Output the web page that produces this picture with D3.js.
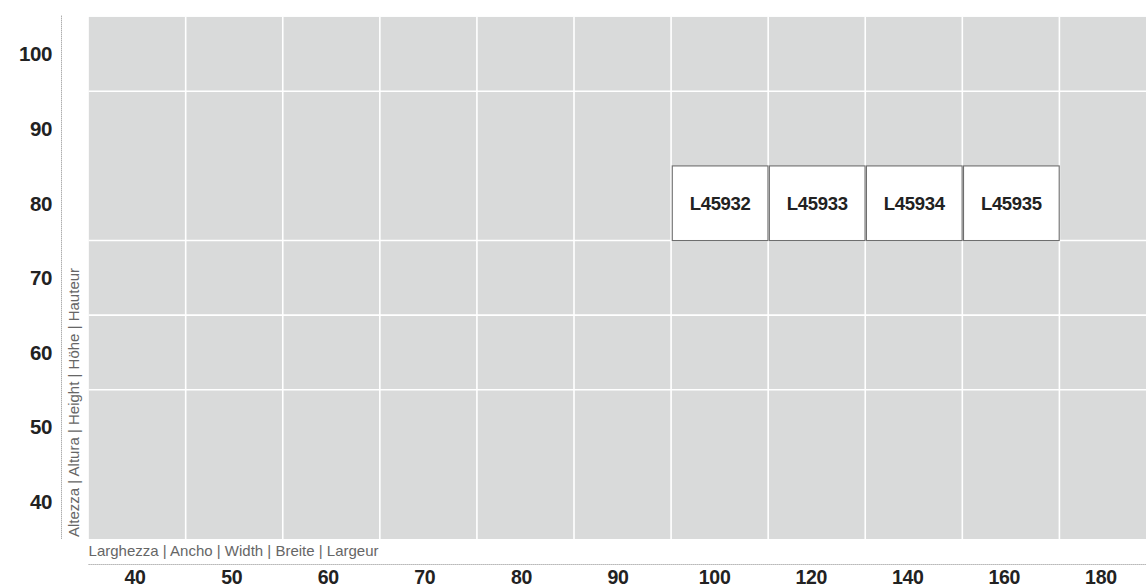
<!DOCTYPE html>
<html>
<head>
<meta charset="utf-8">
<script src="https://cdn.jsdelivr.net/npm/d3@7"></script>
<style>
  html, body { margin: 0; padding: 0; background: #ffffff; }
  svg { display: block; }
</style>
</head>
<body>
<svg id="chart" width="1146" height="587"></svg>
<script>
// ---- data ----
const widthLabels = ["40", "50", "60", "70", "80", "90", "100", "120", "140", "160", "180"];
const heightLabels = ["100", "90", "80", "70", "60", "50", "40"];
const productCodes = ["L45932", "L45933", "L45934", "L45935"];
const productWidths = ["100", "120", "140", "160"];
const productHeights = ["80", "80", "80", "80"];
// rows that have a white line below them
const rowLinesBelow = ["100", "80", "70", "60"];
const xTitle = "Larghezza | Ancho | Width | Breite | Largeur";
const yTitle = "Altezza | Altura | Height | Höhe | Hauteur";

(function () {
const svg = d3.select("#chart");
const W = 1146;
const mLeft = 88.6, mTop = 16.7, mBottom = 539;
const colW = 97.08;

const x = d3.scaleBand().domain(widthLabels).range([mLeft, mLeft + colW * widthLabels.length]).padding(0);
const y = d3.scaleBand().domain(heightLabels).range([mTop, mBottom]).padding(0);

svg.append("defs").append("clipPath").attr("id", "plotclip")
  .append("rect").attr("x", mLeft).attr("y", mTop).attr("width", W - mLeft).attr("height", mBottom - mTop);

const plot = svg.append("g").attr("clip-path", "url(#plotclip)");

plot.append("rect")
  .attr("x", mLeft).attr("y", mTop)
  .attr("width", W - mLeft).attr("height", mBottom - mTop)
  .attr("fill", "#d9dada");

plot.selectAll("line.vgrid")
  .data(widthLabels.slice(1))
  .join("line")
  .attr("class", "vgrid")
  .attr("x1", d => x(d)).attr("x2", d => x(d))
  .attr("y1", mTop).attr("y2", mBottom)
  .attr("stroke", "#ffffff").attr("stroke-width", 1.6);

plot.selectAll("line.hgrid")
  .data(rowLinesBelow)
  .join("line")
  .attr("class", "hgrid")
  .attr("x1", mLeft).attr("x2", W)
  .attr("y1", d => y(d) + y.bandwidth()).attr("y2", d => y(d) + y.bandwidth())
  .attr("stroke", "#ffffff").attr("stroke-width", 1.6);

const products = productCodes.map((c, i) => ({ code: c, w: productWidths[i], h: productHeights[i] }));

const boxes = plot.selectAll("g.box")
  .data(products)
  .join("g")
  .attr("class", "box");

const bx = d => x(d.w) + 1.2;
const bw = x.bandwidth() - 1.4;

boxes.append("rect")
  .attr("x", bx)
  .attr("y", d => y(d.h))
  .attr("width", bw)
  .attr("height", y.bandwidth())
  .attr("fill", "#ffffff")
  .attr("stroke", "#6e6e6e")
  .attr("stroke-width", 1.1);

boxes.append("text")
  .attr("x", d => bx(d) + bw / 2)
  .attr("y", d => y(d.h) + y.bandwidth() / 2)
  .attr("dy", "0.36em")
  .attr("text-anchor", "middle")
  .attr("font-family", "Liberation Sans, Arial, sans-serif")
  .attr("font-weight", "bold")
  .attr("font-size", 18.5)
  .attr("letter-spacing", -0.3)
  .attr("fill", "#222222")
  .text(d => d.code);

svg.append("line")
  .attr("x1", 61.5).attr("x2", 61.5)
  .attr("y1", mTop - 1).attr("y2", mBottom)
  .attr("stroke", "#8a8a8a").attr("stroke-width", 1)
  .attr("stroke-dasharray", "1,1");

svg.append("line")
  .attr("x1", mLeft).attr("x2", W)
  .attr("y1", 564.5).attr("y2", 564.5)
  .attr("stroke", "#8a8a8a").attr("stroke-width", 1)
  .attr("stroke-dasharray", "1,1");

svg.selectAll("text.ylab")
  .data(heightLabels)
  .join("text")
  .attr("class", "ylab")
  .attr("x", 52)
  .attr("y", d => y(d) + y.bandwidth() / 2)
  .attr("dy", "0.36em")
  .attr("text-anchor", "end")
  .attr("font-family", "Liberation Sans, Arial, sans-serif")
  .attr("font-weight", "bold")
  .attr("font-size", 20.5)
  .attr("letter-spacing", -0.4)
  .attr("fill", "#222222")
  .text(d => d);

svg.selectAll("text.xlab")
  .data(widthLabels)
  .join("text")
  .attr("class", "xlab")
  .attr("x", (d, i) => x(d) + x.bandwidth() / 2 - 2 - i * 0.5)
  .attr("y", 583.5)
  .attr("text-anchor", "middle")
  .attr("font-family", "Liberation Sans, Arial, sans-serif")
  .attr("font-weight", "bold")
  .attr("font-size", 19.5)
  .attr("letter-spacing", -0.3)
  .attr("fill", "#222222")
  .text(d => d);

svg.append("text")
  .attr("x", mLeft)
  .attr("y", 556)
  .attr("font-family", "Liberation Sans, Arial, sans-serif")
  .attr("font-size", 15)
  .attr("fill", "#666666")
  .text(xTitle);

svg.append("text")
  .attr("transform", `translate(79, 537) rotate(-90)`)
  .attr("font-family", "Liberation Sans, Arial, sans-serif")
  .attr("font-size", 15)
  .attr("fill", "#666666")
  .text(yTitle);
})();
</script>
</body>
</html>
